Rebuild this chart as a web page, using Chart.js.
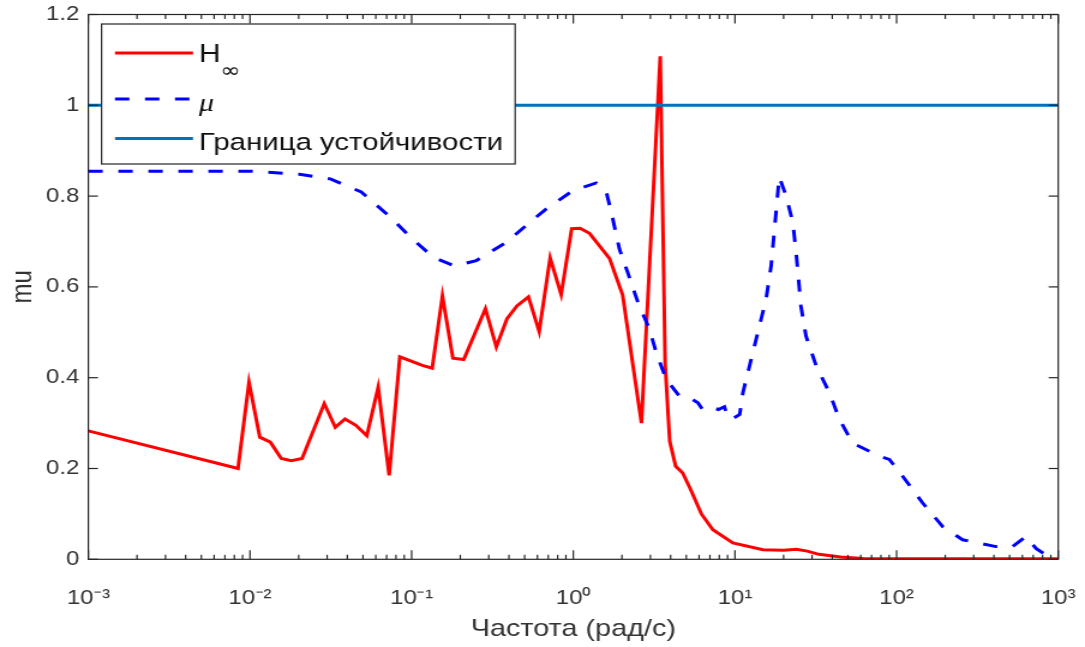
<!DOCTYPE html>
<html>
<head>
<meta charset="utf-8">
<script src="https://cdn.jsdelivr.net/npm/chart.js@4/dist/chart.umd.min.js"></script>
<style>
html,body{margin:0;padding:0;background:#fff;overflow:hidden;}
#c{display:block;width:1085px;height:647px;}
</style>
</head>
<body>
<canvas id="c" width="904" height="647" style="width:1085px;height:647px;"></canvas>
<script>
// ---- data ----
const xTickValues = [0.001, 0.01, 0.1, 1, 10, 100, 1000];
const xTickLabels = ['10⁻³', '10⁻²', '10⁻¹', '10⁰', '10¹', '10²', '10³'];
const yTickValues = [0, 0.2, 0.4, 0.6, 0.8, 1, 1.2];
const yTickLabels = ['0', '0.2', '0.4', '0.6', '0.8', '1', '1.2'];

const seriesLabels = ['H∞', 'μ', 'Граница устойчивости'];

const hinfFreq = [0.001, 0.00843, 0.00986, 0.0115, 0.01337, 0.0156, 0.018, 0.021, 0.0288, 0.0337,
  0.0387, 0.0452, 0.0528, 0.0621, 0.0726, 0.0845, 0.1164, 0.134, 0.155, 0.18,
  0.21, 0.286, 0.334, 0.389, 0.448, 0.528, 0.615, 0.719, 0.841, 0.977,
  1.10, 1.26, 1.675, 2.02, 2.64, 3.45, 3.70, 3.95, 4.3, 4.75,
  5.3, 6.2, 7.3, 9.7, 14.9, 20, 24, 28, 33, 45, 62, 150, 1000];
const hinfMag = [0.283, 0.200, 0.39, 0.269, 0.258, 0.222, 0.217, 0.222, 0.343, 0.291,
  0.309, 0.295, 0.272, 0.379, 0.185, 0.446, 0.427, 0.421, 0.58, 0.443,
  0.44, 0.552, 0.468, 0.53, 0.558, 0.578, 0.502, 0.664, 0.583, 0.728,
  0.729, 0.718, 0.663, 0.582, 0.30, 1.108, 0.43, 0.26, 0.205, 0.19,
  0.155, 0.10, 0.065, 0.036, 0.021, 0.02, 0.022, 0.018, 0.011, 0.005, 0.002, 0.001, 0.001];

const muFreq = [0.001, 0.01, 0.0202, 0.0314, 0.0488, 0.0721, 0.1016, 0.1364, 0.1845, 0.251,
  0.385, 0.537, 0.681, 0.993, 1.386, 1.6, 1.72, 1.93, 2.17, 2.51,
  2.96, 3.26, 3.76, 4.54, 5.2, 5.9, 6.3, 6.8, 7.3, 7.9,
  8.6, 9.0, 9.5, 10.7, 11.2, 12.59, 14.17, 15.58, 16.74, 17.8,
  18.8, 20.7, 22.8, 23.9, 25.6, 27.5, 31.8, 38.4, 44.3, 53.5,
  78.2, 90.2, 109, 145, 193, 256, 412, 522, 631, 728, 840, 1000];
const muMag = [0.855, 0.855, 0.848, 0.838, 0.809, 0.757, 0.705, 0.665, 0.646, 0.658,
  0.698, 0.742, 0.772, 0.812, 0.829, 0.809, 0.764, 0.683, 0.632, 0.566,
  0.507, 0.455, 0.396, 0.359, 0.356, 0.345, 0.33, 0.335, 0.334, 0.33,
  0.336, 0.315, 0.308, 0.319, 0.367, 0.44, 0.514, 0.573, 0.646, 0.75,
  0.842, 0.801, 0.742, 0.676, 0.558, 0.492, 0.426, 0.367, 0.308, 0.256,
  0.227, 0.22, 0.183, 0.124, 0.072, 0.043, 0.028, 0.028, 0.05, 0.024, 0.0095, 0.003];

const boundFreq = [0.001, 1000];
const boundMag = [1, 1];

// ---- styles ----
const FONT = "'Liberation Sans', Arial, sans-serif";
const AX = '#262626';
const TXT = '#333333';

function pts(xs, ys) { return xs.map((v, i) => ({x: v, y: ys[i]})); }

const framePlugin = {
  id: 'frame',
  afterDatasetsDraw(chart) {
    const {ctx, chartArea: a, scales: {x, y}} = chart;
    ctx.save();
    ctx.strokeStyle = AX;
    ctx.lineWidth = 1.2;
    ctx.lineCap = 'butt';
    const seg = (x1, y1, x2, y2) => { ctx.beginPath(); ctx.moveTo(x1, y1); ctx.lineTo(x2, y2); ctx.stroke(); };
    ctx.strokeRect(a.left, a.top, a.right - a.left, a.bottom - a.top);
    for (let e = -3; e <= 3; e++) {
      for (let m = 1; m <= 9; m++) {
        const v = m * Math.pow(10, e);
        if (v > 1000.0001) break;
        const px = x.getPixelForValue(v);
        const len = m === 1 ? 9 : 4.5;
        seg(px, a.bottom, px, a.bottom - len);
        seg(px, a.top, px, a.top + len);
      }
    }
    yTickValues.forEach(v => {
      const py = y.getPixelForValue(v);
      seg(a.left, py, a.left + 8, py);
      seg(a.right, py, a.right - 8, py);
    });

    // legend box
    const L = 84.6, T = 24, W = 344.6, H = 140;
    ctx.fillStyle = '#ffffff';
    ctx.fillRect(L, T, W, H);
    ctx.strokeRect(L, T, W, H);
    const rowsY = [53, 99, 138.5];
    [0, 1, 2].forEach((di, r) => {
      const ds = chart.data.datasets[di];
      ctx.save();
      ctx.strokeStyle = ds.borderColor;
      ctx.lineWidth = ds.borderWidth;
      ctx.setLineDash(ds.borderDash || []);
      ctx.beginPath();
      ctx.moveTo(95.8, rowsY[r]);
      ctx.lineTo(160.8, rowsY[r]);
      ctx.stroke();
      ctx.restore();
    });
    ctx.fillStyle = '#111111';
    ctx.textBaseline = 'alphabetic';
    ctx.textAlign = 'left';
    const lab0 = chart.data.datasets[0].label;
    ctx.font = "25px " + FONT;
    ctx.fillText(lab0.charAt(0), 165.8, 62);
    ctx.font = "20px 'DejaVu Sans', sans-serif";
    ctx.fillText(lab0.slice(1), 183.5, 77);
    ctx.font = "italic 25px 'Liberation Serif', serif";
    ctx.fillText(chart.data.datasets[1].label, 165.8, 111);
    ctx.font = "24.5px " + FONT;
    ctx.fillText(chart.data.datasets[2].label, 165.8, 150);
    ctx.restore();
  }
};

new Chart(document.getElementById('c'), {
  type: 'line',
  data: {
    datasets: [
      {label: seriesLabels[0], data: pts(hinfFreq, hinfMag), borderColor: '#ff0000', borderWidth: 3,
       pointRadius: 0, tension: 0, fill: false, order: 2, borderJoinStyle: 'miter'},
      {label: seriesLabels[1], data: pts(muFreq, muMag), borderColor: '#0000ff', borderWidth: 3,
       borderDash: [12, 13], pointRadius: 0, tension: 0, fill: false, order: 1, borderJoinStyle: 'miter'},
      {label: seriesLabels[2], data: pts(boundFreq, boundMag), borderColor: '#0072bd', borderWidth: 3,
       pointRadius: 0, tension: 0, fill: false, order: 0}
    ]
  },
  options: {
    responsive: false,
    animation: false,
    devicePixelRatio: 1,
    layout: {padding: {left: 0, right: 22.3, top: 14.5, bottom: 0}},
    plugins: {legend: {display: false}, tooltip: {enabled: false}},
    scales: {
      x: {
        type: 'logarithmic',
        min: 0.001, max: 1000,
        afterBuildTicks: s => { s.ticks = xTickValues.map(v => ({value: v})); },
        afterFit: s => { s.height = 87.7; s.paddingLeft = 0; s.paddingRight = 0; },
        grid: {display: false, drawTicks: false},
        border: {display: false},
        ticks: {
          autoSkip: false, maxRotation: 0, padding: 27,
          color: TXT, font: {family: FONT, size: 20},
          callback: (v, i) => xTickLabels[i]
        },
        title: {display: true, text: 'Частота (рад/с)', color: TXT,
          font: {family: FONT, size: 24}, padding: {top: 0, bottom: 3}}
      },
      y: {
        type: 'linear',
        min: 0, max: 1.2,
        afterBuildTicks: s => { s.ticks = yTickValues.map(v => ({value: v})); },
        afterFit: s => { s.width = 73.6; s.paddingTop = 0; s.paddingBottom = 0; },
        grid: {display: false, drawTicks: false},
        border: {display: false},
        ticks: {
          padding: 7.5, color: TXT, font: {family: FONT, size: 20},
          callback: (v, i) => yTickLabels[i]
        },
        title: {display: true, text: 'mu', color: TXT,
          font: {family: FONT, size: 24}, padding: {top: 4.7, bottom: 0}}
      }
    }
  },
  plugins: [framePlugin]
});
</script>
</body>
</html>
